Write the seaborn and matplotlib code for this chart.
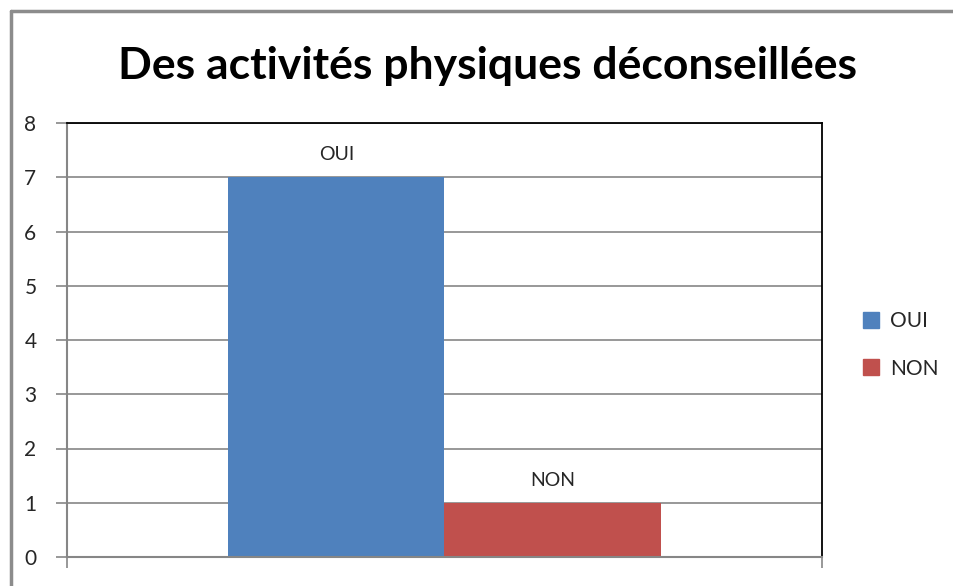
import matplotlib
matplotlib.use("Agg")
import matplotlib.pyplot as plt
import seaborn as sns
import pandas as pd
from matplotlib.lines import Line2D

# data
categories = ["Q"]
series = ["OUI", "NON"]
values = [7, 1]
colors = ["#4F81BD", "#C0504D"]

df = pd.DataFrame({"cat": categories * len(series), "rep": series, "n": values})

sns.set_style("white")
plt.rcParams["font.family"] = ["Lato", "DejaVu Sans"]

fig = plt.figure(figsize=(9.54, 5.86), dpi=100)
ax = fig.add_axes([67 / 954, 1 - 557 / 586, (822 - 67) / 954, (557 - 123) / 586])

sns.barplot(data=df, x="cat", y="n", hue="rep", palette=colors,
            width=432 / 755, gap=0, saturation=1, linewidth=0,
            ax=ax, legend=False)

ax.set_xlim(-0.5, 0.5)
ax.set_ylim(0, 8)
ax.set_yticks(range(0, 9))
ax.yaxis.grid(True, color="#868686", linewidth=1.2)
ax.set_axisbelow(True)
ax.set_xlabel("")
ax.set_ylabel("")
ax.set_xticks([-0.5, 0.5])
ax.set_xticklabels(["", ""])
ax.tick_params(axis="x", direction="out", length=8, width=1.2, color="#868686", bottom=True)
ax.tick_params(axis="y", direction="out", length=8, width=1.2, color="#868686",
               left=True, labelsize=15, pad=14)

for side in ["left", "bottom"]:
    ax.spines[side].set_color("#868686")
    ax.spines[side].set_linewidth(1.5)
for side in ["top", "right"]:
    ax.spines[side].set_color("black")
    ax.spines[side].set_linewidth(1.3)

# value labels (series names) above bars
for cont, name in zip(ax.containers, series):
    ax.bar_label(cont, labels=[name], padding=10, fontsize=14)

fig.text(488 / 954, 1 - 66 / 586, "Des activités physiques déconseillées",
         ha="center", va="center", fontsize=32, fontweight="bold", color="black")

handles = [Line2D([0], [0], marker="s", linestyle="", markersize=11,
                  markerfacecolor=c, markeredgecolor=c) for c in colors]
fig.legend(handles, series, loc="center left", bbox_to_anchor=(840 / 954, 1 - 345 / 586),
           frameon=False, fontsize=15, handletextpad=0.3, labelspacing=1.3,
           handlelength=1.2)

# outer chart frame (only top and left visible)
fig.add_artist(Line2D([11 / 954, 11 / 954], [0, 1 - 11 / 586], transform=fig.transFigure,
                      color="#8c8c8c", linewidth=2.5))
fig.add_artist(Line2D([11 / 954, 1], [1 - 11 / 586, 1 - 11 / 586], transform=fig.transFigure,
                      color="#8c8c8c", linewidth=2.5))

fig.savefig("out.png", dpi=100)
